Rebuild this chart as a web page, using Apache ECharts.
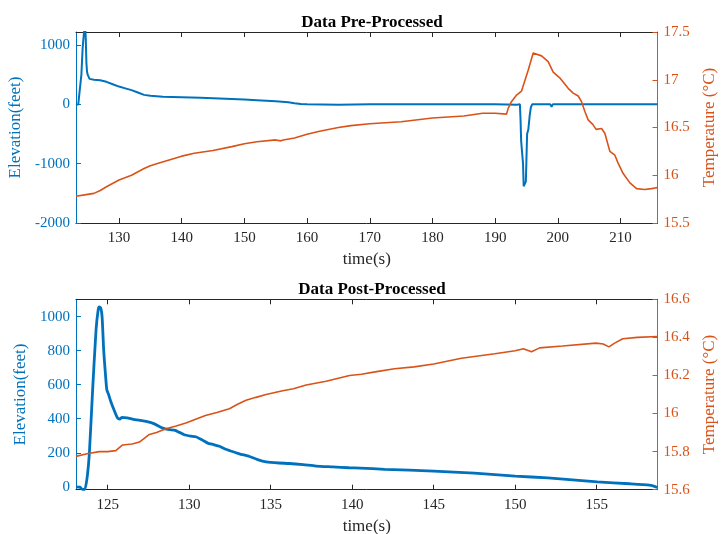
<!DOCTYPE html>
<html>
<head>
<meta charset="utf-8">
<script src="https://cdn.jsdelivr.net/npm/echarts@6/dist/echarts.min.js"></script>
<style>html,body{margin:0;padding:0;background:#fff}#c{width:725px;height:534px}</style>
</head>
<body>
<div id="c"></div>
<script>
// ---- Data: Pre-Processed ----
const preElevT = [123.14,123.5,123.8,124.0,124.2,124.3,124.35,124.45,124.6,124.7,124.8,124.9,125.0,125.3,125.6,126,127,128,129,130,131,132,133,134,135,137,140,143,145,148,150,152,155,157,158,159,160,165,170,175,180,185,190,193.5,193.95,194.05,194.15,194.3,194.45,194.55,194.75,194.9,195.0,195.1,195.3,195.5,195.7,195.9,198.8,199.0,199.2,206.5,206.7,207.0,209,215.9];
const preElevV = [-10,0,10,500,950,1080,1050,1250,1350,1100,700,550,500,430,410,415,405,380,340,300,270,240,200,160,145,130,120,110,102,90,80,70,52,35,20,8,0,-5,0,0,0,0,0,-5,0,-250,-620,-620,-1000,-1380,-1400,-1300,-900,-500,-420,-200,-50,0,0,-40,0,0,-20,0,0,0];
const preTempT = [123.14,125,126,127,128,130,132,134,135,136,138,140,142,145,148,150,152,155,155.8,156.2,158,160,162,165,167,170,175,180,185,188,190,191.82,192.08,192.6,193.42,194.2,195.27,196.07,196.3,197.4,198.46,199.26,200.3,201.65,202.45,203.25,203.78,204.3,204.84,205.6,206.1,206.97,207.5,208.3,209.1,209.6,210.4,211.5,212.55,213.88,214.95,215.74,215.9];
const preTempV = [15.78,15.80,15.81,15.84,15.88,15.95,16.00,16.07,16.10,16.12,16.16,16.20,16.23,16.26,16.30,16.33,16.35,16.37,16.36,16.37,16.39,16.43,16.46,16.50,16.52,16.54,16.56,16.60,16.62,16.65,16.65,16.64,16.70,16.77,16.84,16.88,17.10,17.28,17.29,17.25,17.19,17.08,17.02,16.91,16.86,16.83,16.77,16.67,16.58,16.53,16.48,16.49,16.44,16.25,16.21,16.13,16.02,15.92,15.86,15.85,15.86,15.87,15.87];
// ---- Data: Post-Processed ----
const postElevT = [123.06,123.3,123.45,123.6,123.75,123.88,124.08,124.29,124.42,124.49,124.58,124.66,124.76,124.86,124.95,125.05,125.2,125.4,125.61,125.75,125.88,126.2,126.53,127.0,127.36,127.87,128.38,128.8,129.1,129.4,129.7,130.1,130.4,130.8,131.14,131.5,131.86,132.2,132.5,133.08,133.7,134.2,134.72,135.5,136.15,137.0,137.78,138.8,139.8,140.5,142,145,147.5,150,152,155.04,157,158.23,158.5,158.73];
const postElevV = [0,-2,-15,-15,60,198,570,923,1040,1057,1050,1000,800,669,570,545,500,450,404,398,408,405,398,390,384,370,345,336,333,320,306,298,294,275,257,248,238,222,212,194,178,160,147,140,137,130,122,117,112,110,103,92,80,63,52,29,18,10,4,-4];
const postTempT = [123.06,123.8,124.5,125.0,125.5,125.92,126.5,126.95,127.56,128.0,128.58,129.2,129.8,130.4,131.0,131.7,132.47,133.0,133.49,134.1,134.72,135.74,136.4,137.18,138.4,139.84,140.57,141.5,142.6,143.8,145,146.7,148.75,150,150.5,151.0,151.5,152.9,154.96,155.4,155.75,156.1,156.6,157.5,158.73];
const postTempV = [15.775,15.79,15.80,15.80,15.805,15.835,15.84,15.85,15.89,15.90,15.92,15.935,15.95,15.97,15.99,16.005,16.025,16.05,16.07,16.085,16.10,16.12,16.13,16.15,16.17,16.20,16.206,16.22,16.235,16.245,16.26,16.29,16.314,16.33,16.34,16.325,16.345,16.355,16.37,16.365,16.35,16.37,16.393,16.40,16.405];
// ---- Ticks ----
const preXTicks = [130,140,150,160,170,180,190,200,210];
const preElevTicks = [-2000,-1000,0,1000];
const preTempTicks = [15.5,16,16.5,17,17.5];
const postXTicks = [125,130,135,140,145,150,155];
const postElevTicks = [0,200,400,600,800,1000];
const postTempTicks = [15.6,15.8,16,16.2,16.4,16.6];

const zip = (a, b) => a.map((v, i) => [v, b[i]]);
const FONT = 'Liberation Serif';
const BLUE = '#0072BD', ORANGE = '#D95319', DARK = '#262626';
const fmt = v => String(Math.round(v * 1000) / 1000);

function xAx(grid, min, max, ticks, top) {
  return {
    type: 'value', gridIndex: grid, min: min, max: max, position: top ? 'top' : 'bottom',
    axisLine: { show: true, onZero: false, lineStyle: { color: DARK, width: 1 } },
    axisTick: { show: true, inside: true, length: 5, customValues: ticks, lineStyle: { color: DARK } },
    axisLabel: { show: !top, customValues: ticks, formatter: fmt, color: DARK, fontFamily: FONT, fontSize: 15, margin: 8 },
    splitLine: { show: false },
    name: top ? '' : 'time(s)', nameLocation: 'middle', nameGap: 28,
    nameTextStyle: { color: DARK, fontFamily: FONT, fontSize: 17 }
  };
}
function yAx(grid, min, max, ticks, right, color, name, gap) {
  return {
    type: 'value', gridIndex: grid, min: min, max: max, position: right ? 'right' : 'left',
    axisLine: { show: true, onZero: false, lineStyle: { color: color, width: 1 } },
    axisTick: { show: true, inside: true, length: 5, customValues: ticks, lineStyle: { color: color } },
    axisLabel: { customValues: ticks, formatter: fmt, color: color, fontFamily: FONT, fontSize: 15, margin: 6 },
    splitLine: { show: false },
    name: name, nameLocation: 'middle', nameGap: gap, nameRotate: 90,
    nameTextStyle: { color: color, fontFamily: FONT, fontSize: 17 }
  };
}

const chart = echarts.init(document.getElementById('c'), null, { renderer: 'canvas' });
chart.setOption({
  animation: false,
  backgroundColor: '#fff',
  title: [
    { text: 'Data Pre-Processed', left: 367, top: 9, textAlign: 'center',
      textStyle: { fontFamily: FONT, fontWeight: 'bold', fontSize: 17, color: '#000' } },
    { text: 'Data Post-Processed', left: 367, top: 276, textAlign: 'center',
      textStyle: { fontFamily: FONT, fontWeight: 'bold', fontSize: 17, color: '#000' } }
  ],
  grid: [
    { left: 76, right: 67.5, top: 32, height: 191, containLabel: false, outerBoundsMode: 'none' },
    { left: 76, right: 67.5, top: 299.3, height: 190.4, containLabel: false, outerBoundsMode: 'none' }
  ],
  xAxis: [
    xAx(0, 123.14, 215.9, preXTicks, false),
    xAx(0, 123.14, 215.9, preXTicks, true),
    xAx(1, 123.06, 158.73, postXTicks, false),
    xAx(1, 123.06, 158.73, postXTicks, true)
  ],
  yAxis: [
    yAx(0, -2000, 1220, preElevTicks, false, BLUE, 'Elevation(feet)', 44),
    yAx(0, 15.5, 17.5, preTempTicks, true, ORANGE, 'Temperature (°C)', 40),
    yAx(1, -17, 1102, postElevTicks, false, BLUE, 'Elevation(feet)', 44),
    yAx(1, 15.6, 16.6, postTempTicks, true, ORANGE, 'Temperature (°C)', 40)
  ],
  series: [
    { type: 'line', xAxisIndex: 0, yAxisIndex: 0, data: zip(preElevT, preElevV), symbol: 'none',
      lineStyle: { color: BLUE, width: 2 }, clip: true },
    { type: 'line', xAxisIndex: 0, yAxisIndex: 1, data: zip(preTempT, preTempV), symbol: 'none',
      lineStyle: { color: ORANGE, width: 1.6 }, clip: true },
    { type: 'line', xAxisIndex: 2, yAxisIndex: 2, data: zip(postElevT, postElevV), symbol: 'none',
      lineStyle: { color: BLUE, width: 2.8 }, clip: true, smooth: 0.2 },
    { type: 'line', xAxisIndex: 2, yAxisIndex: 3, data: zip(postTempT, postTempV), symbol: 'none',
      lineStyle: { color: ORANGE, width: 1.6 }, clip: true }
  ]
});
</script>
</body>
</html>
